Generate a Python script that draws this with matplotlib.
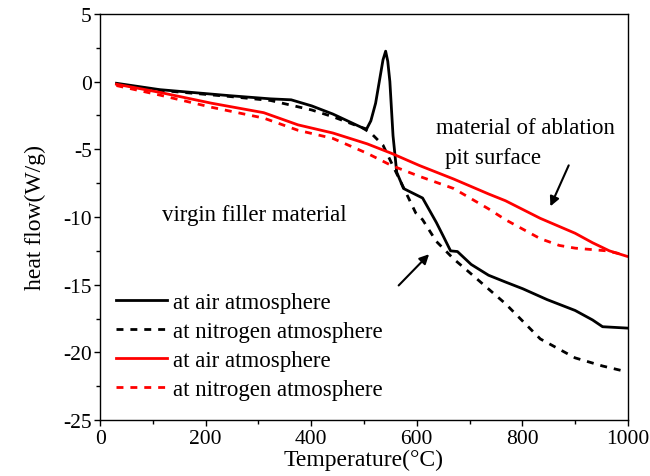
import matplotlib
matplotlib.use("Agg")
import matplotlib.pyplot as plt
from matplotlib.ticker import MultipleLocator

plt.rcParams['font.family'] = ['Liberation Serif', 'DejaVu Serif']
plt.rcParams['axes.unicode_minus'] = False

# virgin filler material, air atmosphere
t_air_v = [31, 113, 244, 323, 362, 401, 441, 496, 505, 513, 522, 529, 536, 541, 545, 549, 555, 562, 575, 611,
           637, 650, 664, 677, 703, 736, 768, 801, 847, 900, 933, 952, 998]
q_air_v = [-0.13, -0.6, -1.04, -1.28, -1.35, -1.8, -2.4, -3.4, -3.5, -2.9, -1.6, 0.0, 1.6, 2.24, 1.5, 0.0, -4.0,
           -6.7, -7.9, -8.6, -10.4, -11.4, -12.5, -12.55, -13.5, -14.3, -14.8, -15.3, -16.1, -16.9, -17.6, -18.1, -18.2]

# virgin filler material, nitrogen atmosphere
t_n2_v = [31, 113, 244, 323, 401, 441, 496, 513, 536, 552, 572, 598, 611, 637, 670, 703, 768, 834, 900, 952, 995]
q_n2_v = [-0.2, -0.65, -1.1, -1.4, -2.1, -2.6, -3.4, -3.8, -4.7, -6.0, -7.6, -9.7, -10.2, -11.8, -13.1, -14.2,
          -16.4, -19.0, -20.4, -21.0, -21.4]

# ablation pit surface, air atmosphere
t_air_p = [31, 113, 211, 310, 375, 441, 506, 552, 605, 670, 736, 768, 834, 900, 933, 965, 998]
q_air_p = [-0.2, -0.8, -1.6, -2.3, -3.2, -3.8, -4.6, -5.3, -6.2, -7.2, -8.3, -8.8, -10.1, -11.2, -11.9, -12.5, -12.9]

# ablation pit surface, nitrogen atmosphere
t_n2_p = [31, 113, 211, 310, 375, 441, 506, 552, 605, 670, 736, 768, 801, 834, 870, 900, 960, 995]
q_n2_p = [-0.3, -1.0, -1.9, -2.7, -3.6, -4.2, -5.3, -6.2, -7.0, -7.9, -9.4, -10.2, -10.9, -11.6, -12.1, -12.3,
          -12.5, -12.8]

fig = plt.figure(figsize=(6.5, 4.77), dpi=100)
ax = fig.add_axes([0.154, 0.117, 0.812, 0.852])

ax.plot(t_air_v, q_air_v, color="black", lw=2, label="at air atmosphere")
ax.plot(t_n2_v, q_n2_v, color="black", lw=2, ls=(0, (2.5, 2.5)), label="at nitrogen atmosphere")
ax.plot(t_air_p, q_air_p, color="red", lw=2, label="at air atmosphere")
ax.plot(t_n2_p, q_n2_p, color="red", lw=2, ls=(0, (2.5, 2.5)), label="at nitrogen atmosphere")

ax.set_xlim(0, 1000)
ax.set_ylim(-25, 5)
ax.xaxis.set_major_locator(MultipleLocator(200))
ax.xaxis.set_minor_locator(MultipleLocator(100))
ax.yaxis.set_major_locator(MultipleLocator(5))
ax.yaxis.set_minor_locator(MultipleLocator(2.5))
ax.tick_params(which="major", direction="out", length=4, width=1, labelsize=15.5, pad=2)
ax.tick_params(which="minor", direction="out", length=3, width=1)
for s in ax.spines.values():
    s.set_linewidth(1)

ax.set_xlabel("Temperature(°C)", fontsize=17, labelpad=1)
ax.set_ylabel("heat flow(W/g)", fontsize=17, labelpad=12)

# annotations
ax.text(805, -3.4, "material of ablation", fontsize=16.5, ha="center", va="center")
ax.text(745, -5.6, "pit surface", fontsize=16.5, ha="center", va="center")
ax.text(293, -9.8, "virgin filler material", fontsize=16.5, ha="center", va="center")
ax.annotate("", xy=(851, -9.4), xytext=(890, -6.0),
            arrowprops=dict(arrowstyle="-|>", color="black", lw=1.5, mutation_scale=14))
ax.annotate("", xy=(627, -12.6), xytext=(562, -15.2),
            arrowprops=dict(arrowstyle="-|>", color="black", lw=1.5, mutation_scale=14))

ax.legend(loc="lower left", bbox_to_anchor=(0.0, 0.01), frameon=False, fontsize=16.5,
          handlelength=2.2, handletextpad=0.3, labelspacing=0.35, borderaxespad=0.3)

fig.savefig("out.png", dpi=100)
